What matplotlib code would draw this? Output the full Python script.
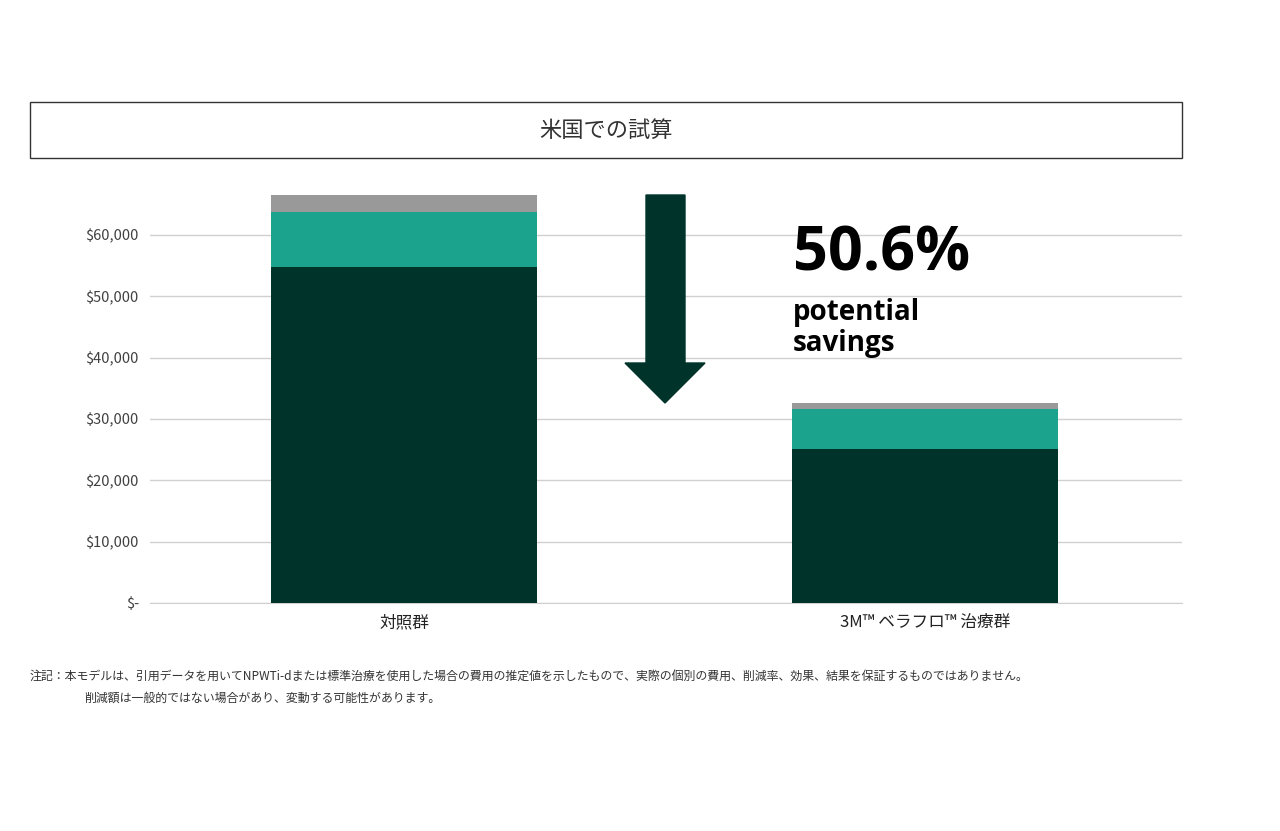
import matplotlib.pyplot as plt
import matplotlib as mpl
from matplotlib.patches import Polygon, Rectangle

mpl.rcParams['font.family'] = 'Noto Sans CJK JP'

# data (USD)
categories = ['対照群', '3M™ ベラフロ™ 治療群']
base_cost = [54800, 25100]
mid_cost = [8950, 6500]
top_cost = [2750, 1000]
yticks = [0, 10000, 20000, 30000, 40000, 50000, 60000]
ytick_labels = ['$-', '$10,000', '$20,000', '$30,000', '$40,000', '$50,000', '$60,000']

dark = '#00342B'
teal = '#1BA38E'
gray = '#999999'

W, H = 1280, 831
fig = plt.figure(figsize=(12.8, 8.31), dpi=100)

def fx(px):
    return px / W

def fy(py):
    return 1 - py / H

ax = fig.add_axes([fx(150), fy(603), fx(1182) - fx(150), fy(195) - fy(603)])
x = [0, 1]
ax.bar(x, base_cost, width=0.51, color=dark, zorder=3)
mid_bottom = base_cost
ax.bar(x, mid_cost, width=0.51, bottom=mid_bottom, color=teal, zorder=3)
top_bottom = [b + m for b, m in zip(base_cost, mid_cost)]
ax.bar(x, top_cost, width=0.51, bottom=top_bottom, color=gray, zorder=3)

ax.set_xlim(-0.4875, 1.493)
ax.set_ylim(0, 66500)
ax.set_yticks(yticks)
ax.set_yticklabels(ytick_labels, fontsize=10.5, color='#404040')
ax.set_xticks(x)
ax.set_xticklabels(categories, fontsize=12, color='#222222')
ax.tick_params(length=0, pad=8)
ax.yaxis.grid(True, color='#d0d0d0', linewidth=1, zorder=0)
for s in ['top', 'right', 'left']:
    ax.spines[s].set_visible(False)
ax.spines['bottom'].set_color('#d0d0d0')

# title box
fig.patches.append(Rectangle((fx(30), fy(158)), fx(1182) - fx(30), fy(102) - fy(158),
                             transform=fig.transFigure, fill=False, edgecolor='#333333', linewidth=1))
fig.text(fx(606), fy(130), '米国での試算', ha='center', va='center', fontsize=16, color='#333333')

# down arrow
pts = [(646, 195), (685, 195), (685, 363), (705, 363), (665, 403), (625, 363), (646, 363)]
fig.patches.append(Polygon([(fx(a), fy(b)) for a, b in pts], closed=True,
                           transform=fig.transFigure, color=dark))

fig.text(fx(793), fy(255), '50.6%', fontsize=44, fontweight='bold', ha='left', va='center', color='black',
         family='Open Sans')
fig.text(fx(793), fy(328), 'potential\nsavings', fontsize=20, fontweight='bold', ha='left', va='center',
         color='black', linespacing=1.05, family='Open Sans')

fig.text(fx(30), fy(676), '注記：本モデルは、引用データを用いてNPWTi-dまたは標準治療を使用した場合の費用の推定値を示したもので、実際の個別の費用、削減率、効果、結果を保証するものではありません。',
         fontsize=8.6, ha='left', va='center', color='#333333')
fig.text(fx(84), fy(698), '削減額は一般的ではない場合があり、変動する可能性があります。',
         fontsize=8.6, ha='left', va='center', color='#333333')

fig.savefig('out.png', dpi=100)
